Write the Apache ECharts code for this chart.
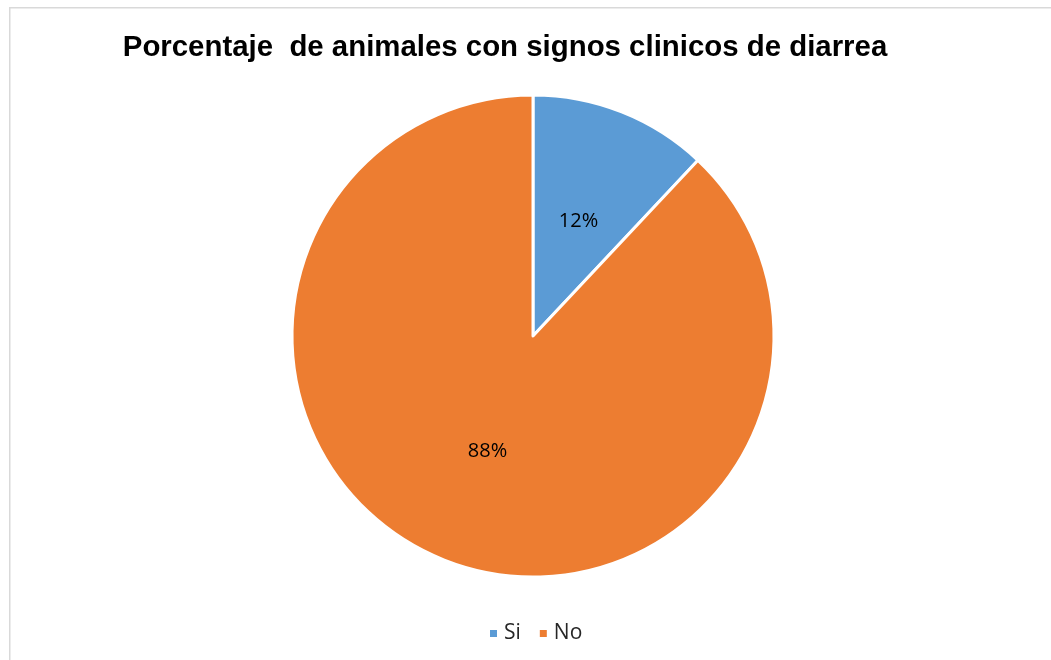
<!DOCTYPE html>
<html>
<head>
<meta charset="utf-8">
<script src="https://cdn.jsdelivr.net/npm/echarts@6/dist/echarts.min.js"></script>
<style>
html,body{margin:0;padding:0;background:#fff;}
#c{width:1051px;height:660px;}
</style>
</head>
<body>
<div id="c"></div>
<script>
const categories = ['Si', 'No'];
const values = [12, 88];
const colors = ['#5B9BD5', '#ED7D31'];
const titleText = 'Porcentaje  de animales con signos clinicos de diarrea';

const chart = echarts.init(document.getElementById('c'), null, {renderer: 'canvas'});
chart.setOption({
  backgroundColor: '#ffffff',
  animation: false,
  graphic: [{
    type: 'rect', left: 9, top: 7, z: -1,
    shape: {width: 1060, height: 670},
    style: {fill: '#ffffff', stroke: '#d9d9d9', lineWidth: 1.5}
  }],
  title: {
    text: titleText,
    left: 500, top: 28, textAlign: 'center',
    textStyle: {fontFamily: 'Liberation Sans, Arial', fontWeight: 'bold', fontSize: 29.4, color: '#000000'}
  },
  legend: {
    data: categories,
    left: 483, top: 618,
    icon: 'rect', itemWidth: 9, itemHeight: 9, itemGap: 17,
    textStyle: {fontFamily: 'Open Sans, Carlito, Calibri', fontSize: 21, color: '#262626', padding: [0,0,0,1]}
  },
  series: [{
    type: 'pie',
    center: [533, 336], radius: 241,
    startAngle: 90, clockwise: true,
    itemStyle: {borderColor: '#ffffff', borderWidth: 3},
    label: {
      show: true, position: 'inside', formatter: '{d}%',
      fontFamily: 'Open Sans, Carlito, Calibri', fontSize: 20, color: '#000000'
    },
    labelLine: {show: false},
    emphasis: {disabled: true},
    data: categories.map((c, i) => ({name: c, value: values[i], itemStyle: {color: colors[i]}}))
  }]
});
</script>
</body>
</html>
